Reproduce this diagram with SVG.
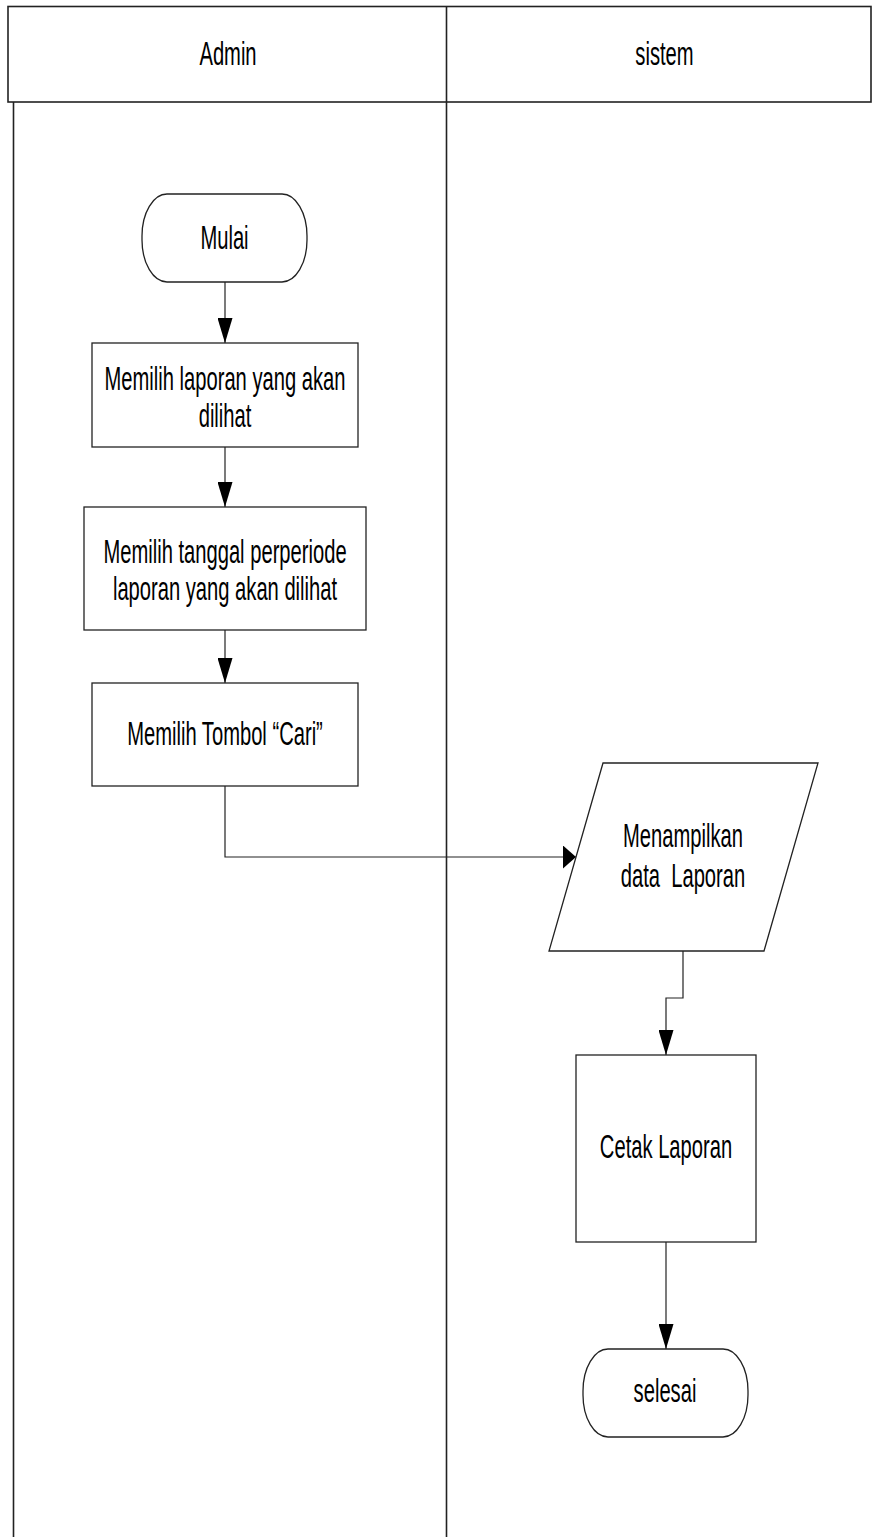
<svg xmlns="http://www.w3.org/2000/svg" width="872" height="1537" viewBox="0 0 872 1537">
<style>
.lane{fill:none;stroke:#222;stroke-width:1.6}
.shape{fill:#fff;stroke:#222;stroke-width:1.3}
.conn{fill:none;stroke:#222;stroke-width:1.2}
.t{font-family:"Liberation Sans",Arial,sans-serif;font-size:24.6px;fill:#000;text-anchor:middle}
</style>
<defs>
<marker id="arrV" markerUnits="userSpaceOnUse" markerWidth="25" markerHeight="15" refX="25" refY="7.5" orient="auto">
<path d="M0,0 L25,7.5 L0,15 Z" fill="#000"/>
</marker>
<marker id="arrH" markerUnits="userSpaceOnUse" markerWidth="13" markerHeight="23" refX="13" refY="11.5" orient="auto">
<path d="M0,0 L13,11.5 L0,23 Z" fill="#000"/>
</marker>
</defs>
<rect width="872" height="1537" fill="#fff"/>
<g id="lanes">
<rect class="lane" x="8" y="6.5" width="863" height="95.5"/>
<line class="lane" x1="13.5" y1="102" x2="13.5" y2="1537"/>
<line class="lane" x1="446.5" y1="6.5" x2="446.5" y2="1537"/>
<text class="t" transform="translate(228,65) scale(0.82,1.36)">Admin</text>
<text class="t" transform="translate(664.5,65) scale(0.82,1.36)">sistem</text>
</g>
<g id="connectors">
<path class="conn" d="M225,282 V343" marker-end="url(#arrV)"/>
<path class="conn" d="M225,447 V507" marker-end="url(#arrV)"/>
<path class="conn" d="M225,630 V683" marker-end="url(#arrV)"/>
<path class="conn" d="M225,786 V857 H576" marker-end="url(#arrH)"/>
<path class="conn" d="M683,951 V998 H666 V1055" marker-end="url(#arrV)"/>
<path class="conn" d="M666,1242 V1349" marker-end="url(#arrV)"/>
</g>
<g id="mulai">
<rect class="shape" x="142" y="194" width="165" height="88" rx="25" ry="42"/>
<text class="t" transform="translate(224.5,249) scale(0.82,1.36)">Mulai</text>
</g>
<g id="pilih-laporan">
<rect class="shape" x="92" y="343" width="266" height="104"/>
<text class="t" transform="translate(225,390) scale(0.82,1.36)"><tspan x="0" y="0">Memilih laporan yang akan</tspan><tspan x="0" dy="27.2">dilihat</tspan></text>
</g>
<g id="pilih-tanggal">
<rect class="shape" x="84" y="507" width="282" height="123"/>
<text class="t" transform="translate(225,563) scale(0.82,1.36)"><tspan x="0" y="0">Memilih tanggal perperiode</tspan><tspan x="0" dy="27.2">laporan yang akan dilihat</tspan></text>
</g>
<g id="tombol-cari">
<rect class="shape" x="92" y="683" width="266" height="103"/>
<text class="t" transform="translate(225,745) scale(0.82,1.36)">Memilih Tombol “Cari”</text>
</g>
<g id="tampil-data">
<polygon class="shape" points="603,763 818,763 764,951 549,951"/>
<text class="t" transform="translate(683,847) scale(0.82,1.36)" style="white-space:pre" xml:space="preserve"><tspan x="0" y="0">Menampilkan</tspan><tspan x="0" dy="29.4">data  Laporan</tspan></text>
</g>
<g id="cetak">
<rect class="shape" x="576" y="1055" width="180" height="187"/>
<text class="t" transform="translate(666,1158) scale(0.82,1.36)">Cetak Laporan</text>
</g>
<g id="selesai">
<rect class="shape" x="583" y="1349" width="165" height="88" rx="25" ry="42"/>
<text class="t" transform="translate(665,1402) scale(0.82,1.36)">selesai</text>
</g>
</svg>
